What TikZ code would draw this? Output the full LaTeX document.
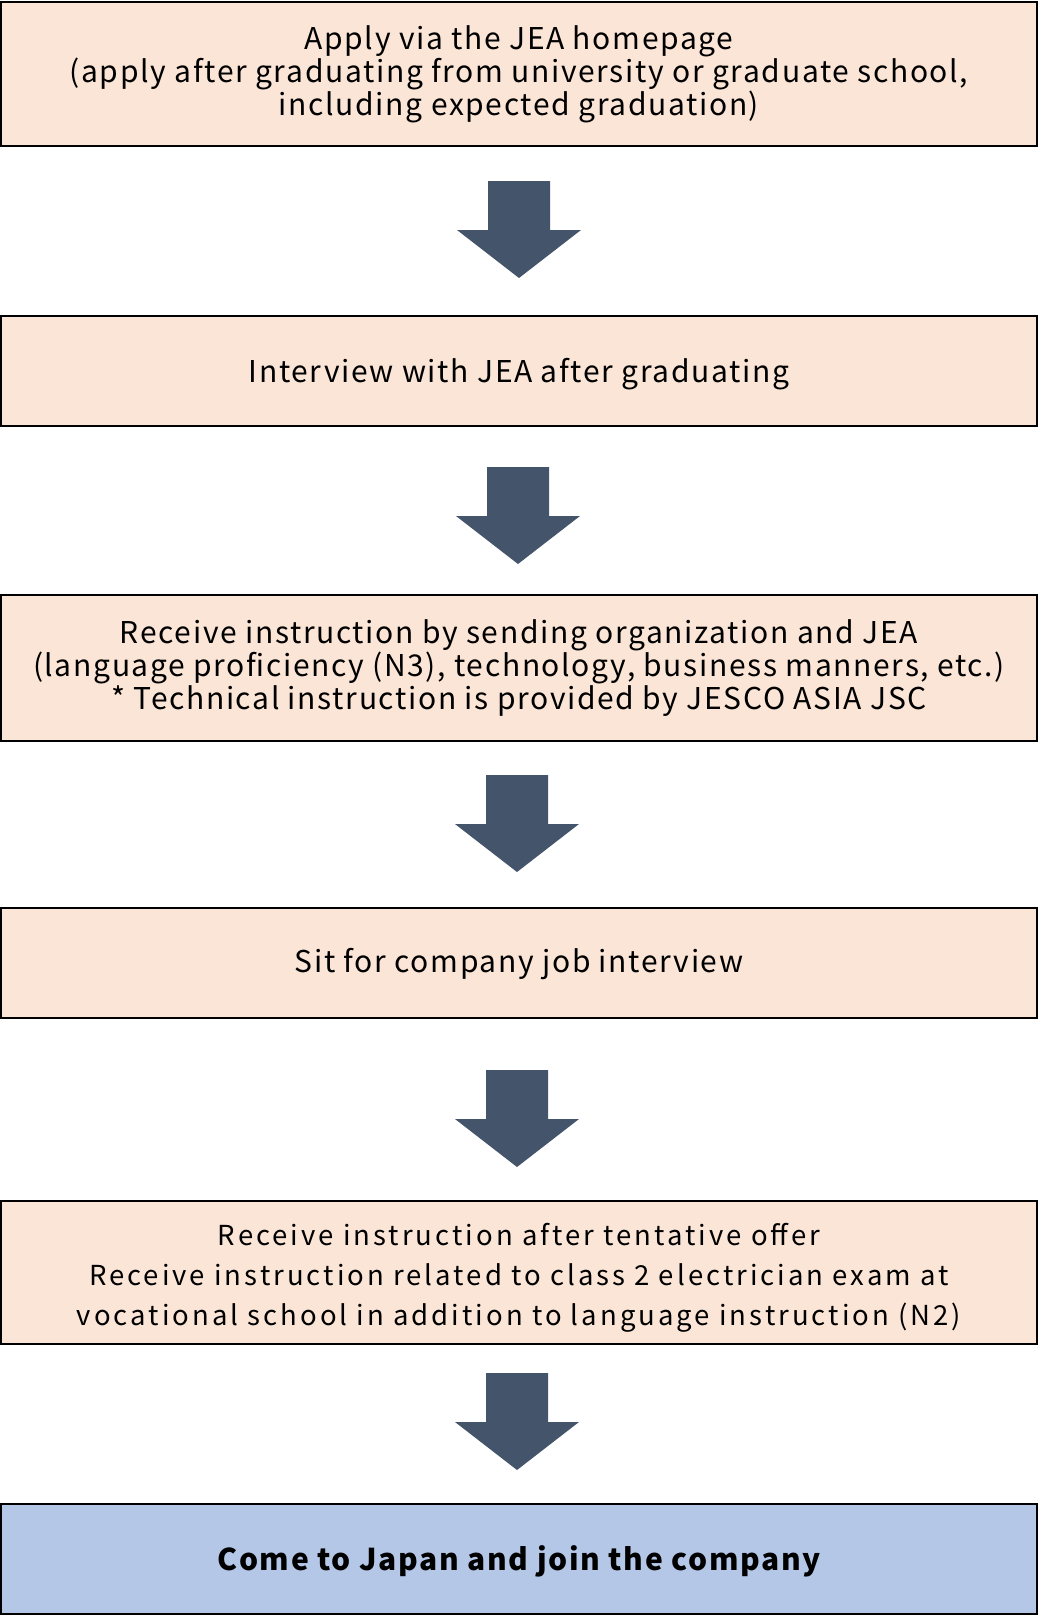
\documentclass[tikz,border=0pt]{standalone}
\usepackage{fontspec}
\setmainfont{Noto Sans CJK JP}[LetterSpace=5.5]
\newfontfamily\widefont{Noto Sans CJK JP}[LetterSpace=11]
\definecolor{boxpink}{HTML}{FBE5D6}
\definecolor{boxblue}{HTML}{B4C7E7}
\definecolor{arrowslate}{HTML}{44546A}
\usetikzlibrary{calc}
% block arrow hanging below node #2, x offset #3, gap #4
\newcommand{\blockarrow}[4]{%
  \coordinate (#1) at ($(#2.south)+(#3,#4)$);
  \fill[arrowslate] ($(#1)+(-31,0)$) -- ($(#1)+(31,0)$) -- ($(#1)+(31,49)$) -- ($(#1)+(62,49)$)
    -- ($(#1)+(0,97)$) -- ($(#1)+(-62,49)$) -- ($(#1)+(-31,49)$) -- cycle;}
\begin{document}
\begin{tikzpicture}[x=1pt,y=-1pt,
  stepbox/.style={draw=black,line width=2pt,fill=boxpink,minimum width=1036pt,
    inner sep=0pt,outer sep=0pt},
  finalbox/.style={stepbox,fill=boxblue},
  steptext/.style={align=center,inner sep=0pt,text=black,font=\fontsize{30}{33}\selectfont},
  finaltext/.style={steptext,font=\fontsize{30}{33}\selectfont\bfseries}]
\useasboundingbox[fill=white] (0,0) rectangle (1039,1615);
\node[stepbox,minimum height=144pt] (b1) at (519,74) {};
\node[stepbox,minimum height=110pt] (b2) at (519,371) {};
\node[stepbox,minimum height=146pt] (b3) at (519,668) {};
\node[stepbox,minimum height=110pt] (b4) at (519,963) {};
\node[stepbox,minimum height=143pt] (b5) at (519,1272.5) {};
\node[finalbox,minimum height=110pt] (b6) at (519,1559) {};
\node[steptext] (t1) at (b1.center)
  {Apply via the JEA homepage\\(apply after graduating from university or graduate school,\\including expected graduation)};
\node[steptext] (t2) at ($(b2.center)+(0,3)$) {Interview with JEA after graduating};
\node[steptext] (t3) at (b3.center)
  {Receive instruction by sending organization and JEA\\(language proficiency (N3), technology, business manners, etc.)\\* Technical instruction is provided by JESCO ASIA JSC};
\node[steptext] (t4) at ($(b4.center)+(0,1)$) {Sit for company job interview};
\node[steptext,font=\widefont\fontsize{27.5}{40}\selectfont] (t5) at ($(b5.center)+(0,5)$)
  {Receive instruction after tentative offer\\Receive instruction related to class 2 electrician exam at\\vocational school in addition to language instruction (N2)};
\node[finaltext] (t6) at ($(b6.center)+(0,2)$) {Come to Japan and join the company};
\blockarrow{a1}{b1}{0}{35}
\blockarrow{a2}{b2}{-1}{41}
\blockarrow{a3}{b3}{-2}{34}
\blockarrow{a4}{b4}{-2}{52}
\blockarrow{a5}{b5}{-2}{29}
\end{tikzpicture}
\end{document}
